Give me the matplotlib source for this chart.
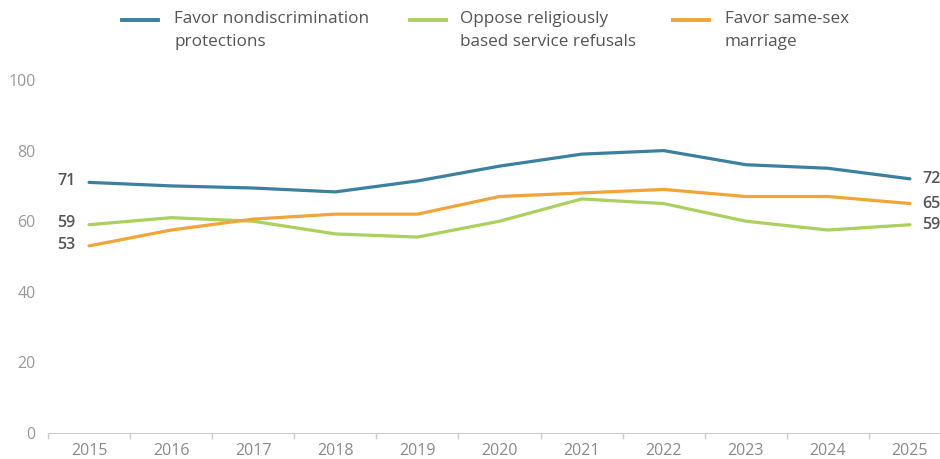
import matplotlib.pyplot as plt
from matplotlib.lines import Line2D

plt.rcParams['font.family'] = ['Open Sans', 'DejaVu Sans']

years = list(range(2015, 2026))
nondiscrimination = [71, 70, 69.4, 68.3, 71.4, 75.6, 79, 80, 76, 75, 72]
oppose_refusals = [59, 61, 60, 56.4, 55.5, 60, 66.3, 65, 60, 57.5, 59]
same_sex = [53, 57.5, 60.6, 62, 62, 67, 68, 69, 67, 67, 65]

series = [
    ("Favor nondiscrimination\nprotections", nondiscrimination, "#3b80a1"),
    ("Oppose religiously\nbased service refusals", oppose_refusals, "#abd05c"),
    ("Favor same-sex\nmarriage", same_sex, "#f2a437"),
]

W, H = 940, 459
fig = plt.figure(figsize=(W / 100, H / 100), dpi=100)
# axes: x from 48 px to ~951 px, y 0 at 433 px, 100 at 80 px
ax = fig.add_axes([48 / W, (H - 433) / H, (951 - 48) / W, (433 - 80) / H])

for label, vals, color in series:
    ax.plot(years, vals, color=color, lw=2.3, solid_capstyle='round')
    ax.annotate(f"{vals[0]:.0f}", (years[0], vals[0]), xytext=(-10, 1),
                textcoords='offset points', ha='right', va='center',
                fontsize=11.5, color='#555555', fontweight='semibold')
    ax.annotate(f"{vals[-1]:.0f}", (years[-1], vals[-1]), xytext=(9, 0),
                textcoords='offset points', ha='left', va='center',
                fontsize=11.5, color='#555555', fontweight='semibold',
                annotation_clip=False)

ax.set_xlim(2014.5, 2025.5)
ax.set_ylim(0, 100)
ax.set_yticks([0, 20, 40, 60, 80, 100])
ax.set_xticks(years)
ax.set_xticks([y + 0.5 for y in [2014] + years], minor=True)
ax.tick_params(axis='x', which='major', length=0, pad=7, labelsize=11.5, labelcolor='#8a8a8a')
ax.tick_params(axis='x', which='minor', length=4, color='#cccccc', width=1)
ax.tick_params(axis='y', length=0, pad=9, labelsize=11.5, labelcolor='#999999')
for s in ['top', 'right', 'left']:
    ax.spines[s].set_visible(False)
ax.spines['bottom'].set_color('#cccccc')

# legend
legend_x = [(122, 174), (410, 460), (673, 725)]
for (lx, tx), (label, vals, color) in zip(legend_x, series):
    fig.add_artist(Line2D([lx / W, (lx + 36) / W], [(H - 20) / H] * 2,
                          color=color, lw=2.8, transform=fig.transFigure))
    fig.text(tx / W, (H - 11) / H, label, ha='left', va='top', fontsize=12.3,
             color='#555555', linespacing=1.6)

fig.savefig('out.png', dpi=100)
